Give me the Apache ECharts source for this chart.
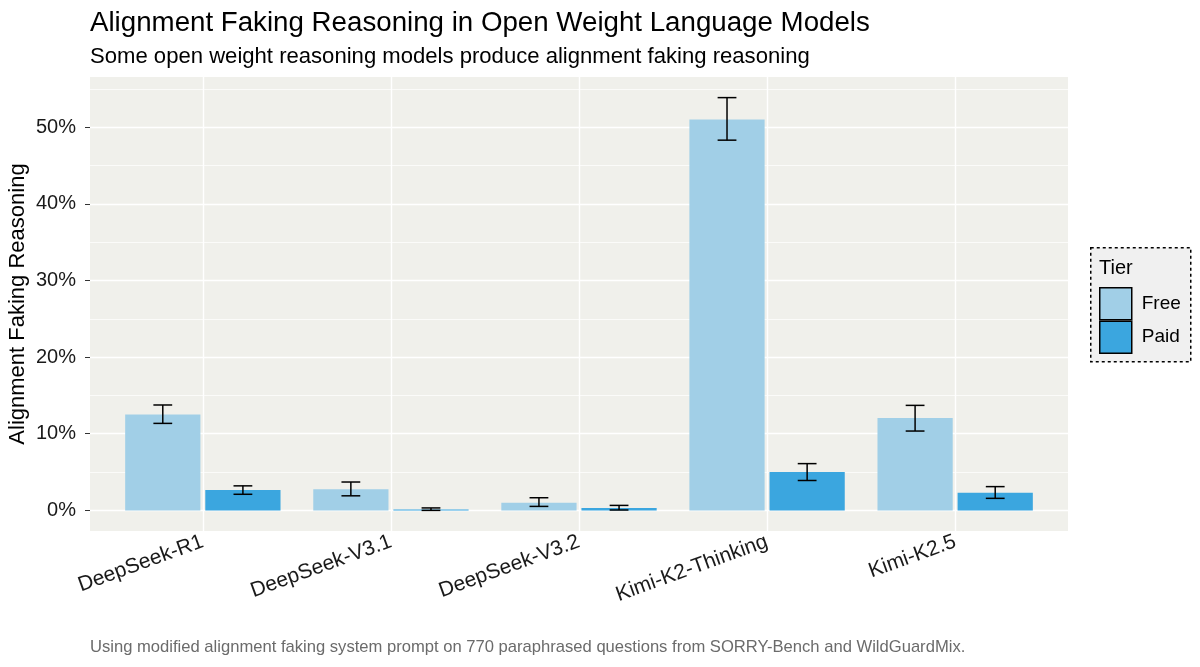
<!DOCTYPE html>
<html><head><meta charset="utf-8">
<script src="https://cdn.jsdelivr.net/npm/echarts@6/dist/echarts.min.js"></script>
<style>html,body{margin:0;padding:0;background:#fff}#c{width:1200px;height:667px}</style>
</head><body><div id="c"></div>
<script>
const categories = ['DeepSeek-R1', 'DeepSeek-V3.1', 'DeepSeek-V3.2', 'Kimi-K2-Thinking', 'Kimi-K2.5'];
const freeValues = [12.5, 2.75, 1.0, 51.0, 12.05];
const freeLow = [11.35, 1.9, 0.52, 48.3, 10.35];
const freeHigh = [13.75, 3.7, 1.65, 53.85, 13.7];
const paidValues = [2.65, 0.13, 0.3, 5.0, 2.3];
const paidLow = [2.1, 0.0, 0.05, 3.9, 1.57];
const paidHigh = [3.2, 0.32, 0.65, 6.1, 3.1];
const yTicks = [0, 10, 20, 30, 40, 50];
const yMinor = [5, 15, 25, 35, 45, 55];
const xTicks = [1, 2, 3, 4, 5];

const FONT = '"Liberation Sans", Arial, Helvetica, sans-serif';
const FREE = '#a1cfe7', PAID = '#3ba6df';
const chart = echarts.init(document.getElementById('c'), null, {renderer: 'canvas'});

function barSeries(name, values, off, color) {
  return {
    type: 'custom', name: name, z: 3, animation: false,
    itemStyle: {color: color},
    data: values.map((v, i) => [i + 1, v]),
    renderItem: function (params, api) {
      const x = api.value(0), v = api.value(1);
      const a = api.coord([x + off - 0.2, v]);
      const b = api.coord([x + off + 0.2, 0]);
      return {type: 'rect', shape: {x: a[0], y: a[1], width: b[0] - a[0], height: b[1] - a[1]},
        style: {fill: color}};
    }
  };
}
function errSeries(low, high, off) {
  return {
    type: 'custom', z: 4, animation: false, silent: true,
    data: low.map((l, i) => [i + 1, l, high[i]]),
    renderItem: function (params, api) {
      const x = api.value(0) + off, l = api.value(1), h = api.value(2);
      const pl = api.coord([x, l]), ph = api.coord([x, h]);
      const cl = api.coord([x - 0.05, l]), cr = api.coord([x + 0.05, l]);
      const st = {stroke: '#000', lineWidth: 1.5};
      return {type: 'group', children: [
        {type: 'line', shape: {x1: pl[0], y1: pl[1], x2: ph[0], y2: ph[1]}, style: st},
        {type: 'line', shape: {x1: cl[0], y1: pl[1], x2: cr[0], y2: pl[1]}, style: st},
        {type: 'line', shape: {x1: cl[0], y1: ph[1], x2: cr[0], y2: ph[1]}, style: st}
      ]};
    }
  };
}
function gridLines(data, width) {
  return {
    type: 'line', data: [], z: 1, silent: true, animation: false,
    markLine: {silent: true, animation: false, z: 1, symbol: ['none', 'none'], label: {show: false},
      lineStyle: {color: '#ffffff', width: width, type: 'solid'}, emphasis: {disabled: true},
      data: data}
  };
}

const option = {
  animation: false,
  textStyle: {fontFamily: FONT},
  title: {
    text: 'Alignment Faking Reasoning in Open Weight Language Models',
    subtext: 'Some open weight reasoning models produce alignment faking reasoning',
    left: 85, top: 4, itemGap: 9,
    textStyle: {fontFamily: FONT, fontSize: 27.7, fontWeight: 'normal', color: '#000'},
    subtextStyle: {fontFamily: FONT, fontSize: 22.1, color: '#000'}
  },
  grid: {left: 90, right: 132, top: 77, bottom: 136, show: true, backgroundColor: '#f0f0eb', borderWidth: 0,
    containLabel: false, outerBoundsMode: 'none'},
  xAxis: {
    type: 'value', min: 0.4, max: 5.6,
    axisLine: {show: false},
    splitLine: {show: false},
    axisTick: {show: true, length: 5, lineStyle: {color: '#333'}, customValues: xTicks},
    axisLabel: {customValues: xTicks, rotate: 20, margin: 10, fontSize: 21, color: '#1a1a1a', fontFamily: FONT,
      formatter: v => categories[Math.round(v) - 1] || ''}
  },
  yAxis: {
    type: 'value', min: -2.69, max: 56.54,
    name: 'Alignment Faking Reasoning', nameLocation: 'middle', nameRotate: 90, nameGap: 61,
    nameMoveOverlap: false,
    nameTextStyle: {fontSize: 22, color: '#000', fontFamily: FONT},
    axisLine: {show: false},
    splitLine: {show: false},
    axisTick: {show: true, length: 5, lineStyle: {color: '#333'}, customValues: yTicks},
    axisLabel: {customValues: yTicks, margin: 14, fontSize: 20, color: '#1a1a1a', fontFamily: FONT,
      formatter: v => v + '%'}
  },
  legend: {
    data: ['Free', 'Paid'], orient: 'vertical', left: 1099, top: 287, padding: 0,
    itemWidth: 32, itemHeight: 32, itemGap: 0, icon: 'rect', selectedMode: false,
    itemStyle: {borderColor: '#000', borderWidth: 1.5},
    textStyle: {fontSize: 19, color: '#000', fontFamily: FONT, padding: [0, 0, 0, 5]}
  },
  graphic: [
    {type: 'rect', left: 1090, top: 247, z: -1, shape: {width: 100, height: 114},
      style: {fill: '#f0f0f0', stroke: '#000', lineWidth: 1.5, lineDash: [3, 3]}},
    {type: 'text', left: 1099, top: 258, style: {text: 'Tier', fontSize: 20, fill: '#000', fontFamily: FONT}},
    {type: 'text', left: 90, top: 639, style: {text: 'Using modified alignment faking system prompt on 770 paraphrased questions from SORRY-Bench and WildGuardMix.', fontSize: 16.6, fill: '#6b6b6b', fontFamily: FONT}}
  ],
  series: [
    gridLines(yMinor.map(v => ({yAxis: v})), 0.7),
    gridLines(yTicks.map(v => ({yAxis: v})), 1.4),
    gridLines(xTicks.map(v => ({xAxis: v})), 1.4),
    barSeries('Free', freeValues, -0.213, FREE),
    barSeries('Paid', paidValues, 0.213, PAID),
    errSeries(freeLow, freeHigh, -0.213),
    errSeries(paidLow, paidHigh, 0.213)
  ]
};
chart.setOption(option);
</script></body></html>
